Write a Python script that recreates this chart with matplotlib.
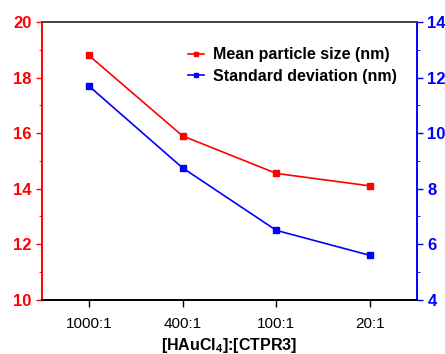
import matplotlib
matplotlib.use("Agg")
import matplotlib.pyplot as plt
from matplotlib.ticker import MultipleLocator

plt.rcParams["font.family"] = ["Liberation Sans", "DejaVu Sans"]

ratios = ["1000:1", "400:1", "100:1", "20:1"]
mean_size = [18.8, 15.9, 14.55, 14.1]
std_dev = [11.7, 8.75, 6.5, 5.6]

RED = "#ff0000"
BLUE = "#0000ff"

fig = plt.figure(figsize=(4.45, 3.54), dpi=100)
ax = fig.add_axes([0.094, 0.153, 0.843, 0.785])
ax2 = ax.twinx()

x = list(range(len(ratios)))
l1, = ax.plot(x, mean_size, color=RED, marker="s", markersize=5,
              linewidth=1.2, label="Mean particle size (nm)")
l2, = ax2.plot(x, std_dev, color=BLUE, marker="s", markersize=5,
               linewidth=1.2, label="Standard deviation (nm)")

ax.set_xlim(-0.5, 3.5)
ax.set_ylim(10, 20)
ax2.set_ylim(4, 14)
ax.set_xticks(x)
ax.set_xticklabels(ratios, fontsize=11)
ax.yaxis.set_major_locator(MultipleLocator(2))
ax.yaxis.set_minor_locator(MultipleLocator(1))
ax2.yaxis.set_major_locator(MultipleLocator(2))
ax2.yaxis.set_minor_locator(MultipleLocator(1))

ax.tick_params(axis="y", colors=RED, direction="out", length=4, width=1,
               labelsize=12)
ax.tick_params(axis="y", which="minor", colors=RED, direction="out",
               length=2.5)
ax2.tick_params(axis="y", colors=BLUE, direction="out", length=4, width=1,
                labelsize=12)
ax2.tick_params(axis="y", which="minor", colors=BLUE, direction="out",
                length=2.5)
ax.tick_params(axis="x", direction="out", length=5, width=1, pad=7)
for lbl in ax.get_yticklabels():
    lbl.set_fontweight("bold")
for lbl in ax2.get_yticklabels():
    lbl.set_fontweight("bold")

for a in (ax, ax2):
    a.spines["left"].set_color(RED)
    a.spines["right"].set_color(BLUE)
    a.spines["top"].set_color("#444444")
    for s in a.spines.values():
        s.set_linewidth(1.2)

ax.set_xlabel("[HAuCl$_\\mathregular{4}$]:[CTPR3]", fontsize=11.5,
              fontweight="bold", labelpad=4)

ax2.legend(handles=[l1, l2], loc="upper right",
           bbox_to_anchor=(0.985, 0.96), frameon=False, handlelength=1.0,
           handletextpad=0.6, labelspacing=0.4, markerscale=0.6,
           prop={"weight": "bold", "size": 11.5})

fig.savefig("out.png", dpi=100)
